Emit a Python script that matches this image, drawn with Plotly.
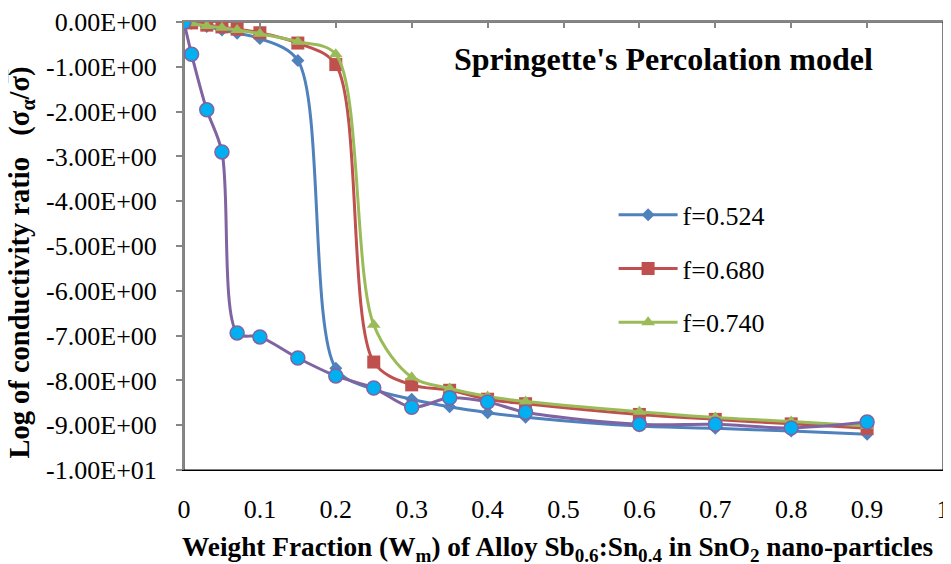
import plotly.graph_objects as go

# ---------------- data ----------------
weight_fraction = [0, 0.01, 0.03, 0.05, 0.07, 0.1, 0.15, 0.2, 0.25, 0.3, 0.35,
                   0.4, 0.45, 0.6, 0.7, 0.8, 0.9]
f_0524 = [0, -0.03, -0.1, -0.18, -0.25, -0.37, -0.86, -7.73, -8.2, -8.42, -8.59,
          -8.72, -8.82, -9.02, -9.07, -9.13, -9.2]
f_0680 = [0, -0.02, -0.07, -0.11, -0.16, -0.24, -0.47, -0.95, -7.59, -8.1, -8.22,
          -8.42, -8.52, -8.76, -8.87, -8.97, -9.07]
f_0740 = [0, -0.03, -0.09, -0.13, -0.18, -0.26, -0.44, -0.72, -6.76, -7.93, -8.18,
          -8.36, -8.47, -8.7, -8.83, -8.92, -9.02]
experimental = [0, -0.72, -1.96, -2.9, -6.94, -7.03, -7.5, -7.9, -8.17, -8.6, -8.39,
                -8.48, -8.71, -8.98, -8.98, -9.06, -8.93]

series_names = ["f=0.524", "f=0.680", "f=0.740"]
y_tick_values = [0, -1, -2, -3, -4, -5, -6, -7, -8, -9, -10]
y_tick_labels = ["0.00E+00", "-1.00E+00", "-2.00E+00", "-3.00E+00", "-4.00E+00",
                 "-5.00E+00", "-6.00E+00", "-7.00E+00", "-8.00E+00", "-9.00E+00",
                 "-1.00E+01"]
x_tick_values = [0, 0.1, 0.2, 0.3, 0.4, 0.5, 0.6, 0.7, 0.8, 0.9, 1]
x_tick_labels = ["0", "0.1", "0.2", "0.3", "0.4", "0.5", "0.6", "0.7", "0.8", "0.9", "1"]

FONT = "Liberation Serif"
BLUE, RED, GREEN, PURPLE, CYAN = "#4F81BD", "#C0504D", "#9BBB59", "#8064A2", "#00B0F0"
GREY = "#868686"

fig = go.Figure()

styles = [
    (f_0524, BLUE, "diamond", 10),
    (f_0680, RED, "square", 13),
    (f_0740, GREEN, "triangle-up", 12),
]
for name, (vals, col, sym, size) in zip(series_names, styles):
    fig.add_trace(go.Scatter(
        x=weight_fraction, y=vals, name=name, mode="lines+markers",
        legendgroup=name,
        line=dict(color=col, width=3, shape="spline", smoothing=0.9),
        marker=dict(symbol=sym, size=size, color=col),
    ))

fig.add_trace(go.Scatter(
    x=weight_fraction, y=experimental, name="experimental", mode="lines+markers",
    xaxis="x2", showlegend=False,
    line=dict(color=PURPLE, width=3, shape="spline", smoothing=0.9),
    marker=dict(symbol="circle", size=14, color=CYAN, line=dict(color=PURPLE, width=1.5)),
))

# plot-area border
fig.add_shape(type="rect", xref="x domain", yref="y domain", x0=0, x1=1, y0=0, y1=1,
              line=dict(color="#000000", width=1), layer="below")

# the page body adds an 8px offset, so the figure is 8px smaller on each of those sides
fig.update_layout(
    width=943, height=556,
    margin=dict(l=176, r=8, t=14, b=94, autoexpand=False),
    paper_bgcolor="white", plot_bgcolor="white",
    font=dict(family=FONT, size=26, color="black"),
    showlegend=True,
    legend=dict(x=0.566, y=0.622, xanchor="left", yanchor="top",
                bgcolor="rgba(0,0,0,0)", font=dict(size=26, family=FONT),
                itemwidth=59, tracegroupgap=17, traceorder="grouped"),
    xaxis=dict(range=[0, 1], tickvals=x_tick_values, ticktext=x_tick_labels,
               automargin=False,
               showgrid=False, zeroline=False, showline=True, linecolor="black",
               linewidth=1, ticks="", ticklabelstandoff=16,
               tickfont=dict(size=26, family=FONT)),
    xaxis2=dict(range=[0, 1], overlaying="x", side="top", anchor="y",
                automargin=False,
                tickvals=x_tick_values, showticklabels=False,
                showgrid=False, zeroline=False, showline=True, linecolor=GREY,
                linewidth=2, ticks="inside", ticklen=6, tickcolor=GREY, tickwidth=1.5),
    yaxis=dict(range=[-10, 0], tickvals=y_tick_values, ticktext=y_tick_labels,
               automargin=False,
               showgrid=False, zeroline=False, showline=True, linecolor=GREY,
               linewidth=2, ticks="outside", ticklen=6, tickcolor=GREY, tickwidth=1.5,
               ticklabelstandoff=14, tickfont=dict(size=26, family=FONT)),
    annotations=[
        dict(text="<b>Springette's Percolation model</b>", xref="paper", yref="paper",
             x=0.632, y=0.917, xanchor="center", yanchor="middle", showarrow=False,
             font=dict(size=32, family=FONT)),
        dict(text="<b>Weight Fraction (W<sub>m</sub>) of Alloy Sb<sub>0.6</sub>:Sn<sub>0.4</sub> in SnO<sub>2</sub> nano-particles</b>",
             xref="paper", yref="paper", x=0.492, y=-0.177, xanchor="center",
             yanchor="middle", showarrow=False, font=dict(size=27.3, family=FONT)),
        dict(text="<b>Log of conductivity ratio   (σ<sub>α</sub>/σ\u0305)</b>",
             xref="paper", yref="paper", x=-0.2134, y=0.463, xanchor="center",
             yanchor="middle", textangle=-90, showarrow=False,
             font=dict(size=28.5, family=FONT)),
    ],
)

fig.write_html("out.html")
